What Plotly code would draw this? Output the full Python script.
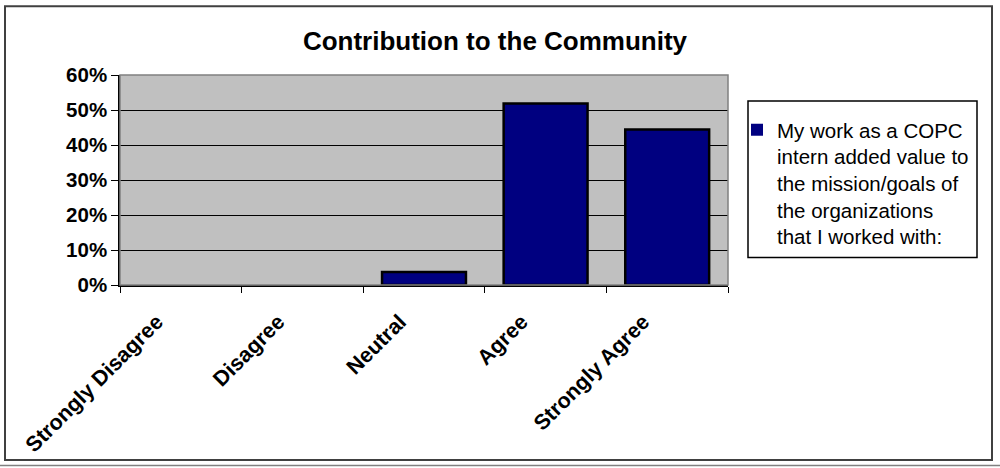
import plotly.graph_objects as go

# Survey responses (share of respondents)
categories = ["Strongly Disagree", "Disagree", "Neutral", "Agree", "Strongly Agree"]
shares = [0.0, 0.0, 0.037, 0.5185, 0.4444]
series_name = "My work as a COPC<br>intern added value to<br>the mission/goals of<br>the organizations<br>that I worked with:"
y_ticks = [0, 0.1, 0.2, 0.3, 0.4, 0.5, 0.6]
y_tick_text = ["0%", "10%", "20%", "30%", "40%", "50%", "60%"]

W, H = 1000, 468
L, R, T, B = 120, 272, 75, 182.5
pw, ph = W - L - R, H - T - B


def px(x):
    return (x - L) / pw


def py(y):
    return (H - B - y) / ph


FONT = "Liberation Sans, Arial, sans-serif"

# empty categories get no outline so nothing is drawn for them
outline_widths = [2.5 if v > 0 else 0 for v in shares]

fig = go.Figure(
    go.Bar(
        x=categories,
        y=shares,
        name=series_name,
        marker=dict(color="#000080", line=dict(color="#000000", width=outline_widths)),
        width=0.69,
        showlegend=True,
    )
)

fig.update_layout(
    width=W,
    height=H,
    margin=dict(l=L, r=R, t=T, b=B),
    paper_bgcolor="#FFFFFF",
    plot_bgcolor="#C0C0C0",
    title=dict(
        text="<b>Contribution to the Community</b>",
        x=495 / W, xanchor="center",
        y=1 - 41 / H, yanchor="middle",
        font=dict(family=FONT, size=26, color="#000000"),
    ),
    legend=dict(
        x=px(737), xanchor="left",
        y=py(110), yanchor="top",
        bgcolor="rgba(0,0,0,0)",
        borderwidth=0,
        valign="top",
        font=dict(family=FONT, size=20.5, color="#000000"),
        tracegroupgap=0,
    ),
    bargap=0.31,
    shapes=[
        # plot area frame
        dict(type="rect", xref="paper", yref="paper", x0=0, x1=1, y0=0, y1=1,
             line=dict(color="#808080", width=1.5), layer="above"),
        # legend frame
        dict(type="rect", xref="paper", yref="paper",
             x0=px(748), x1=px(977), y0=py(258), y1=py(101),
             line=dict(color="#000000", width=1.5)),
        # outer chart border
        dict(type="rect", xref="paper", yref="paper",
             x0=px(5), x1=px(992), y0=py(461), y1=py(6),
             line=dict(color="#404040", width=2)),
        # page edge line
        dict(type="line", xref="paper", yref="paper",
             x0=px(0), x1=px(1000), y0=py(466.5), y1=py(466.5),
             line=dict(color="#808080", width=1.5)),
    ],
)

fig.update_xaxes(
    type="category",
    tickangle=-45,
    tickson="boundaries",
    ticks="outside",
    ticklen=6,
    tickcolor="#000000",
    tickwidth=1,
    showline=True,
    linecolor="#000000",
    linewidth=1.5,
    showgrid=False,
    ticklabelshift=-24,
    ticklabelstandoff=14,
    tickfont=dict(family=FONT, size=21.5, color="#000000", weight="bold"),
)

fig.update_yaxes(
    range=[0, 0.6],
    tickvals=y_ticks,
    ticktext=y_tick_text,
    ticks="outside",
    ticklen=7,
    tickcolor="#000000",
    tickwidth=1,
    showline=True,
    linecolor="#000000",
    linewidth=1.5,
    showgrid=True,
    gridcolor="#000000",
    gridwidth=1,
    zeroline=False,
    tickfont=dict(family=FONT, size=20.5, color="#000000", weight="bold"),
)

fig.write_html("out.html")
